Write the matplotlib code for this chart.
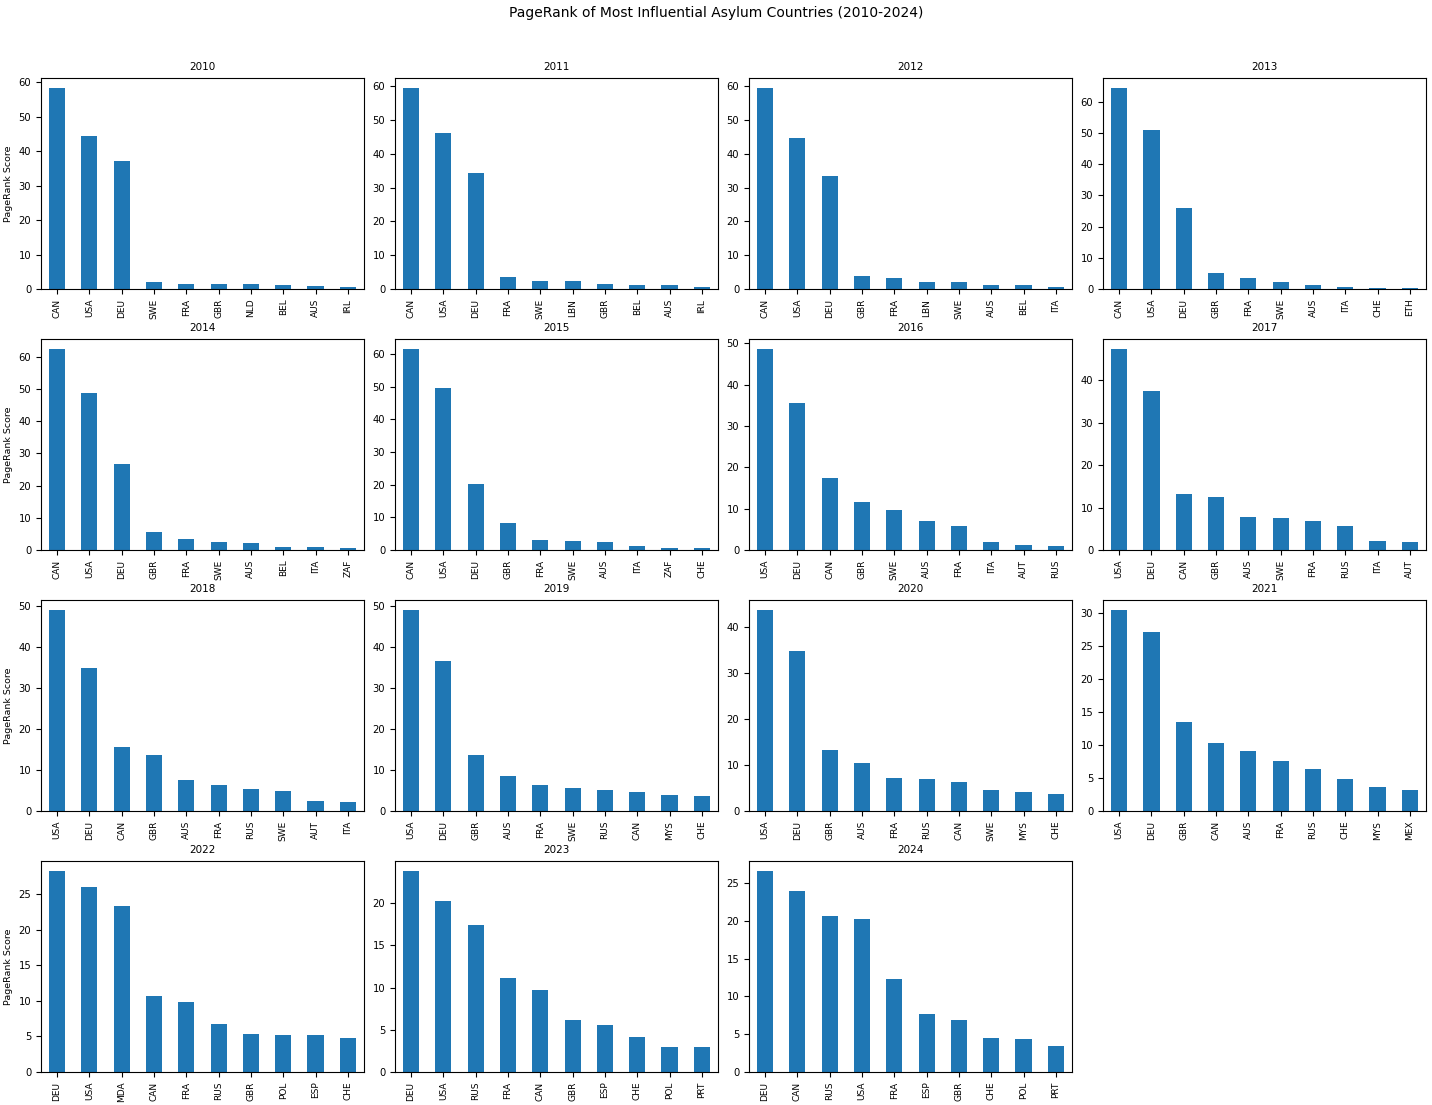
import numpy as np
import matplotlib
matplotlib.use("Agg")
import matplotlib.pyplot as plt

# top 10 countries by PageRank score per year
years = list(range(2010, 2025))

countries = [
    ["CAN", "USA", "DEU", "SWE", "FRA", "GBR", "NLD", "BEL", "AUS", "IRL"],  # 2010
    ["CAN", "USA", "DEU", "FRA", "SWE", "LBN", "GBR", "BEL", "AUS", "IRL"],  # 2011
    ["CAN", "USA", "DEU", "GBR", "FRA", "LBN", "SWE", "AUS", "BEL", "ITA"],  # 2012
    ["CAN", "USA", "DEU", "GBR", "FRA", "SWE", "AUS", "ITA", "CHE", "ETH"],  # 2013
    ["CAN", "USA", "DEU", "GBR", "FRA", "SWE", "AUS", "BEL", "ITA", "ZAF"],  # 2014
    ["CAN", "USA", "DEU", "GBR", "FRA", "SWE", "AUS", "ITA", "ZAF", "CHE"],  # 2015
    ["USA", "DEU", "CAN", "GBR", "SWE", "AUS", "FRA", "ITA", "AUT", "RUS"],  # 2016
    ["USA", "DEU", "CAN", "GBR", "AUS", "SWE", "FRA", "RUS", "ITA", "AUT"],  # 2017
    ["USA", "DEU", "CAN", "GBR", "AUS", "FRA", "RUS", "SWE", "AUT", "ITA"],  # 2018
    ["USA", "DEU", "GBR", "AUS", "FRA", "SWE", "RUS", "CAN", "MYS", "CHE"],  # 2019
    ["USA", "DEU", "GBR", "AUS", "FRA", "RUS", "CAN", "SWE", "MYS", "CHE"],  # 2020
    ["USA", "DEU", "GBR", "CAN", "AUS", "FRA", "RUS", "CHE", "MYS", "MEX"],  # 2021
    ["DEU", "USA", "MDA", "CAN", "FRA", "RUS", "GBR", "POL", "ESP", "CHE"],  # 2022
    ["DEU", "USA", "RUS", "FRA", "CAN", "GBR", "ESP", "CHE", "POL", "PRT"],  # 2023
    ["DEU", "CAN", "RUS", "USA", "FRA", "ESP", "GBR", "CHE", "POL", "PRT"],  # 2024
]

scores = [
    [58.3, 44.3, 37.1, 2.1, 1.5, 1.5, 1.5, 1.2, 0.9, 0.6],
    [59.4, 46.1, 34.3, 3.5, 2.4, 2.4, 1.5, 1.2, 1.2, 0.6],
    [59.5, 44.7, 33.5, 3.9, 3.3, 2.2, 2.2, 1.2, 1.2, 0.6],
    [64.4, 50.9, 25.9, 5.1, 3.5, 2.2, 1.3, 0.6, 0.3, 0.3],
    [62.4, 48.7, 26.7, 5.6, 3.4, 2.5, 2.2, 0.9, 0.9, 0.6],
    [61.5, 49.6, 20.2, 8.3, 3.1, 2.8, 2.5, 1.2, 0.6, 0.6],
    [48.6, 35.5, 17.4, 11.6, 9.7, 7.0, 5.8, 1.9, 1.2, 1.0],
    [47.4, 37.6, 13.3, 12.6, 7.8, 7.6, 6.9, 5.7, 2.1, 1.9],
    [49.1, 34.9, 15.6, 13.7, 7.6, 6.4, 5.4, 4.9, 2.4, 2.2],
    [49.1, 36.6, 13.7, 8.6, 6.4, 5.6, 5.1, 4.6, 3.9, 3.7],
    [43.6, 34.7, 13.2, 10.4, 7.2, 6.9, 6.3, 4.6, 4.1, 3.7],
    [30.5, 27.1, 13.5, 10.3, 9.1, 7.6, 6.4, 4.9, 3.6, 3.2],
    [28.3, 26.1, 23.4, 10.7, 9.8, 6.8, 5.4, 5.25, 5.25, 4.8],
    [23.8, 20.2, 17.4, 11.1, 9.7, 6.1, 5.6, 4.2, 3.0, 3.0],
    [26.6, 24.0, 20.7, 20.3, 12.35, 7.7, 6.9, 4.5, 4.4, 3.5],
]

fig, axes = plt.subplots(4, 4, figsize=(14.32, 11.05), dpi=100)
fig.subplots_adjust(left=0.0286, right=0.9958, top=0.9294, bottom=0.0299,
                    wspace=0.096, hspace=0.237)
axes = axes.flatten()

for i, year in enumerate(years):
    ax = axes[i]
    x = np.arange(len(countries[i]))
    ax.bar(x, scores[i], width=0.5, color="#1f77b4")
    ax.set_xlim(-0.5, len(x) - 0.5)
    ax.set_xticks(x)
    ax.set_xticklabels(countries[i], rotation=90, fontsize=6.5)
    ax.tick_params(axis="y", labelsize=7.2)
    ax.set_title(str(year), fontsize=7.5)
    if i % 4 == 0:
        ax.set_ylabel("PageRank Score", fontsize=6.8)

# the 16th panel stays empty
axes[-1].axis("off")

fig.suptitle("PageRank of Most Influential Asylum Countries (2010-2024)",
             fontsize=10, y=0.995)

fig.savefig("out.png", dpi=100)
